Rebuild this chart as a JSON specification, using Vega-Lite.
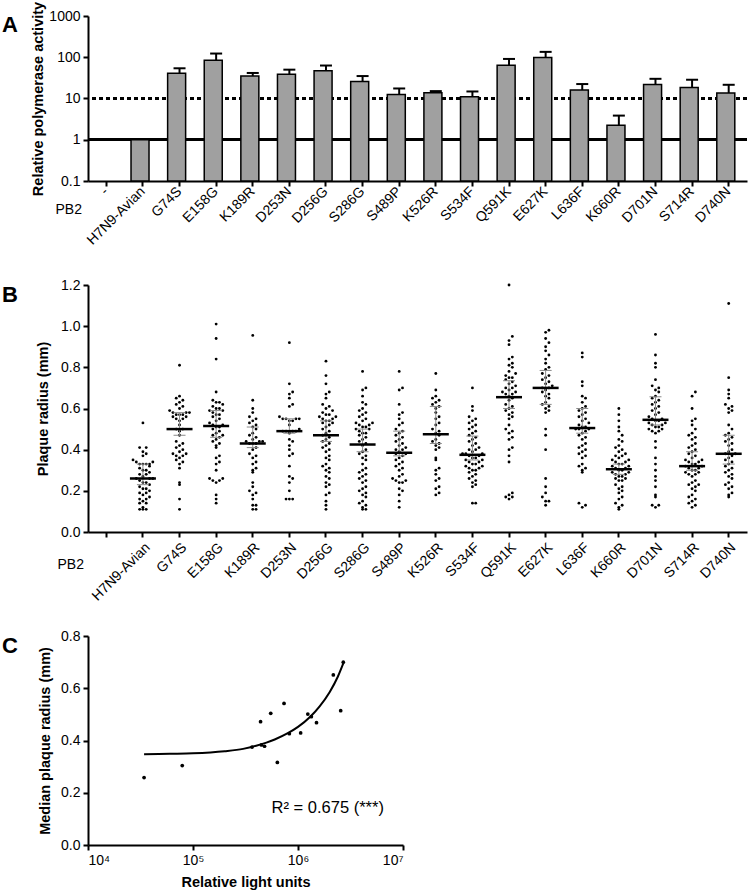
{
"$schema": "https://vega.github.io/schema/vega-lite/v6.json",
"padding": {"left": 2, "top": 1, "right": 2, "bottom": 2},
"bounds": "flush",
"spacing": 104,
"config": {
  "font": "Liberation Sans",
  "view": {"stroke": null},
  "axis": {"domainColor": "black", "domainWidth": 2, "tickColor": "black", "tickWidth": 2, "tickSize": 5, "labelFont": "Liberation Sans", "labelFontSize": 14, "labelColor": "black", "titleFont": "Liberation Sans", "titleFontSize": 14.5, "titleFontWeight": "bold", "titleColor": "black", "grid": false, "labelPadding": 3},
  "title": {"fontSize": 22, "fontWeight": "bold", "font": "Liberation Sans", "anchor": "start", "frame": "group", "color": "black", "baseline": "top", "offset": 0, "dx": -86, "dy": 33}
},
"datasets": {
  "act": [
    {"g": "H7N9-Avian", "v": 1, "hi": null},
    {"g": "G74S", "v": 40.7, "hi": 54},
    {"g": "E158G", "v": 84.6, "hi": 123},
    {"g": "K189R", "v": 35, "hi": 41.6},
    {"g": "D253N", "v": 38.5, "hi": 50},
    {"g": "D256G", "v": 47, "hi": 63},
    {"g": "S286G", "v": 26, "hi": 35},
    {"g": "S489P", "v": 12.5, "hi": 17.5},
    {"g": "K526R", "v": 13.7, "hi": 15.1},
    {"g": "S534F", "v": 11, "hi": 14.8},
    {"g": "Q591K", "v": 64, "hi": 91},
    {"g": "E627K", "v": 98, "hi": 135},
    {"g": "L636F", "v": 16, "hi": 22.4},
    {"g": "K660R", "v": 2.24, "hi": 3.85},
    {"g": "D701N", "v": 22, "hi": 30},
    {"g": "S714R", "v": 18.6, "hi": 28.5},
    {"g": "D740N", "v": 13.5, "hi": 21.5}
  ],
  "pstats": [
    {"g": "H7N9-Avian", "med": 0.26, "lo": 0.23, "hi": 0.33},
    {"g": "G74S", "med": 0.50, "lo": 0.47, "hi": 0.58},
    {"g": "E158G", "med": 0.515, "lo": 0.46, "hi": 0.59},
    {"g": "K189R", "med": 0.43, "lo": 0.41, "hi": 0.51},
    {"g": "D253N", "med": 0.49, "lo": 0.48, "hi": 0.55},
    {"g": "D256G", "med": 0.47, "lo": 0.44, "hi": 0.54},
    {"g": "S286G", "med": 0.425, "lo": 0.39, "hi": 0.50},
    {"g": "S489P", "med": 0.385, "lo": 0.37, "hi": 0.49},
    {"g": "K526R", "med": 0.475, "lo": 0.43, "hi": 0.61},
    {"g": "S534F", "med": 0.375, "lo": 0.35, "hi": 0.466},
    {"g": "Q591K", "med": 0.655, "lo": 0.60, "hi": 0.735},
    {"g": "E627K", "med": 0.70, "lo": 0.62, "hi": 0.785},
    {"g": "L636F", "med": 0.505, "lo": 0.48, "hi": 0.60},
    {"g": "K660R", "med": 0.305, "lo": 0.28, "hi": 0.33},
    {"g": "D701N", "med": 0.545, "lo": 0.52, "hi": 0.657},
    {"g": "S714R", "med": 0.32, "lo": 0.30, "hi": 0.39},
    {"g": "D740N", "med": 0.38, "lo": 0.33, "hi": 0.47}
  ],
  "corr": [
    {"rlu": 34200, "r": 0.258}, {"rlu": 79000, "r": 0.304}, {"rlu": 365000, "r": 0.375},
    {"rlu": 440000, "r": 0.472}, {"rlu": 448000, "r": 0.383}, {"rlu": 480000, "r": 0.378},
    {"rlu": 550000, "r": 0.504}, {"rlu": 636000, "r": 0.316}, {"rlu": 736000, "r": 0.542},
    {"rlu": 827000, "r": 0.426}, {"rlu": 1060000, "r": 0.429}, {"rlu": 1240000, "r": 0.501},
    {"rlu": 1340000, "r": 0.491}, {"rlu": 1500000, "r": 0.468}, {"rlu": 2170000, "r": 0.651},
    {"rlu": 2550000, "r": 0.514}, {"rlu": 2700000, "r": 0.700}
  ],
  "fit": [
    {"rlu": 34200, "r": 0.347}, {"rlu": 60000, "r": 0.349}, {"rlu": 100000, "r": 0.351},
    {"rlu": 200000, "r": 0.359}, {"rlu": 300000, "r": 0.368}, {"rlu": 400000, "r": 0.38},
    {"rlu": 500000, "r": 0.392}, {"rlu": 600000, "r": 0.404}, {"rlu": 800000, "r": 0.428},
    {"rlu": 1000000, "r": 0.452}, {"rlu": 1300000, "r": 0.49}, {"rlu": 1600000, "r": 0.53},
    {"rlu": 2000000, "r": 0.585}, {"rlu": 2400000, "r": 0.645}, {"rlu": 2700000, "r": 0.695}
  ],
  "note": [{"rlu": 560000, "r": 0.14, "t": "R² = 0.675 (***)"}],
  "plaque": [
{"g":"H7N9-Avian","v":0.53},{"g":"H7N9-Avian","v":0.41},{"g":"H7N9-Avian","v":0.41},{"g":"H7N9-Avian","v":0.39},{"g":"H7N9-Avian","v":0.38},{"g":"H7N9-Avian","v":0.37},{"g":"H7N9-Avian","v":0.35},{"g":"H7N9-Avian","v":0.34},{"g":"H7N9-Avian","v":0.34},{"g":"H7N9-Avian","v":0.33},{"g":"H7N9-Avian","v":0.33},{"g":"H7N9-Avian","v":0.33},{"g":"H7N9-Avian","v":0.33},{"g":"H7N9-Avian","v":0.32},{"g":"H7N9-Avian","v":0.31},{"g":"H7N9-Avian","v":0.30},{"g":"H7N9-Avian","v":0.30},{"g":"H7N9-Avian","v":0.29},{"g":"H7N9-Avian","v":0.28},{"g":"H7N9-Avian","v":0.28},{"g":"H7N9-Avian","v":0.27},{"g":"H7N9-Avian","v":0.26},{"g":"H7N9-Avian","v":0.26},{"g":"H7N9-Avian","v":0.26},{"g":"H7N9-Avian","v":0.25},{"g":"H7N9-Avian","v":0.24},{"g":"H7N9-Avian","v":0.24},{"g":"H7N9-Avian","v":0.23},{"g":"H7N9-Avian","v":0.22},{"g":"H7N9-Avian","v":0.21},{"g":"H7N9-Avian","v":0.21},{"g":"H7N9-Avian","v":0.20},{"g":"H7N9-Avian","v":0.19},{"g":"H7N9-Avian","v":0.19},{"g":"H7N9-Avian","v":0.18},{"g":"H7N9-Avian","v":0.17},{"g":"H7N9-Avian","v":0.16},{"g":"H7N9-Avian","v":0.16},{"g":"H7N9-Avian","v":0.15},{"g":"H7N9-Avian","v":0.14},{"g":"H7N9-Avian","v":0.14},{"g":"H7N9-Avian","v":0.12},{"g":"H7N9-Avian","v":0.11},{"g":"H7N9-Avian","v":0.11},{"g":"H7N9-Avian","v":0.11},
{"g":"G74S","v":0.81},{"g":"G74S","v":0.66},{"g":"G74S","v":0.65},{"g":"G74S","v":0.64},{"g":"G74S","v":0.63},{"g":"G74S","v":0.62},{"g":"G74S","v":0.61},{"g":"G74S","v":0.60},{"g":"G74S","v":0.59},{"g":"G74S","v":0.58},{"g":"G74S","v":0.58},{"g":"G74S","v":0.58},{"g":"G74S","v":0.57},{"g":"G74S","v":0.57},{"g":"G74S","v":0.57},{"g":"G74S","v":0.56},{"g":"G74S","v":0.56},{"g":"G74S","v":0.55},{"g":"G74S","v":0.55},{"g":"G74S","v":0.54},{"g":"G74S","v":0.52},{"g":"G74S","v":0.50},{"g":"G74S","v":0.50},{"g":"G74S","v":0.49},{"g":"G74S","v":0.47},{"g":"G74S","v":0.44},{"g":"G74S","v":0.43},{"g":"G74S","v":0.42},{"g":"G74S","v":0.41},{"g":"G74S","v":0.40},{"g":"G74S","v":0.39},{"g":"G74S","v":0.38},{"g":"G74S","v":0.38},{"g":"G74S","v":0.37},{"g":"G74S","v":0.37},{"g":"G74S","v":0.36},{"g":"G74S","v":0.35},{"g":"G74S","v":0.34},{"g":"G74S","v":0.33},{"g":"G74S","v":0.31},{"g":"G74S","v":0.24},{"g":"G74S","v":0.23},{"g":"G74S","v":0.16},{"g":"G74S","v":0.11},
{"g":"E158G","v":1.01},{"g":"E158G","v":0.94},{"g":"E158G","v":0.84},{"g":"E158G","v":0.68},{"g":"E158G","v":0.64},{"g":"E158G","v":0.63},{"g":"E158G","v":0.63},{"g":"E158G","v":0.62},{"g":"E158G","v":0.61},{"g":"E158G","v":0.60},{"g":"E158G","v":0.60},{"g":"E158G","v":0.59},{"g":"E158G","v":0.59},{"g":"E158G","v":0.58},{"g":"E158G","v":0.57},{"g":"E158G","v":0.57},{"g":"E158G","v":0.56},{"g":"E158G","v":0.55},{"g":"E158G","v":0.54},{"g":"E158G","v":0.53},{"g":"E158G","v":0.52},{"g":"E158G","v":0.52},{"g":"E158G","v":0.51},{"g":"E158G","v":0.51},{"g":"E158G","v":0.50},{"g":"E158G","v":0.49},{"g":"E158G","v":0.48},{"g":"E158G","v":0.47},{"g":"E158G","v":0.47},{"g":"E158G","v":0.46},{"g":"E158G","v":0.45},{"g":"E158G","v":0.44},{"g":"E158G","v":0.43},{"g":"E158G","v":0.42},{"g":"E158G","v":0.41},{"g":"E158G","v":0.37},{"g":"E158G","v":0.36},{"g":"E158G","v":0.34},{"g":"E158G","v":0.33},{"g":"E158G","v":0.30},{"g":"E158G","v":0.26},{"g":"E158G","v":0.26},{"g":"E158G","v":0.25},{"g":"E158G","v":0.25},{"g":"E158G","v":0.24},{"g":"E158G","v":0.18},{"g":"E158G","v":0.16},{"g":"E158G","v":0.14},
{"g":"K189R","v":0.955},{"g":"K189R","v":0.64},{"g":"K189R","v":0.60},{"g":"K189R","v":0.58},{"g":"K189R","v":0.56},{"g":"K189R","v":0.55},{"g":"K189R","v":0.54},{"g":"K189R","v":0.53},{"g":"K189R","v":0.52},{"g":"K189R","v":0.51},{"g":"K189R","v":0.50},{"g":"K189R","v":0.48},{"g":"K189R","v":0.47},{"g":"K189R","v":0.46},{"g":"K189R","v":0.45},{"g":"K189R","v":0.44},{"g":"K189R","v":0.44},{"g":"K189R","v":0.44},{"g":"K189R","v":0.43},{"g":"K189R","v":0.43},{"g":"K189R","v":0.43},{"g":"K189R","v":0.41},{"g":"K189R","v":0.40},{"g":"K189R","v":0.38},{"g":"K189R","v":0.37},{"g":"K189R","v":0.36},{"g":"K189R","v":0.34},{"g":"K189R","v":0.33},{"g":"K189R","v":0.31},{"g":"K189R","v":0.30},{"g":"K189R","v":0.29},{"g":"K189R","v":0.24},{"g":"K189R","v":0.22},{"g":"K189R","v":0.20},{"g":"K189R","v":0.19},{"g":"K189R","v":0.18},{"g":"K189R","v":0.16},{"g":"K189R","v":0.13},{"g":"K189R","v":0.13},{"g":"K189R","v":0.11},{"g":"K189R","v":0.11},
{"g":"D253N","v":0.92},{"g":"D253N","v":0.72},{"g":"D253N","v":0.68},{"g":"D253N","v":0.67},{"g":"D253N","v":0.65},{"g":"D253N","v":0.62},{"g":"D253N","v":0.61},{"g":"D253N","v":0.56},{"g":"D253N","v":0.55},{"g":"D253N","v":0.55},{"g":"D253N","v":0.55},{"g":"D253N","v":0.55},{"g":"D253N","v":0.54},{"g":"D253N","v":0.54},{"g":"D253N","v":0.52},{"g":"D253N","v":0.50},{"g":"D253N","v":0.49},{"g":"D253N","v":0.49},{"g":"D253N","v":0.49},{"g":"D253N","v":0.49},{"g":"D253N","v":0.48},{"g":"D253N","v":0.45},{"g":"D253N","v":0.44},{"g":"D253N","v":0.42},{"g":"D253N","v":0.40},{"g":"D253N","v":0.38},{"g":"D253N","v":0.37},{"g":"D253N","v":0.32},{"g":"D253N","v":0.27},{"g":"D253N","v":0.26},{"g":"D253N","v":0.24},{"g":"D253N","v":0.20},{"g":"D253N","v":0.16},{"g":"D253N","v":0.16},{"g":"D253N","v":0.16},
{"g":"D256G","v":0.83},{"g":"D256G","v":0.76},{"g":"D256G","v":0.72},{"g":"D256G","v":0.68},{"g":"D256G","v":0.67},{"g":"D256G","v":0.65},{"g":"D256G","v":0.62},{"g":"D256G","v":0.61},{"g":"D256G","v":0.60},{"g":"D256G","v":0.59},{"g":"D256G","v":0.58},{"g":"D256G","v":0.57},{"g":"D256G","v":0.57},{"g":"D256G","v":0.56},{"g":"D256G","v":0.56},{"g":"D256G","v":0.55},{"g":"D256G","v":0.55},{"g":"D256G","v":0.54},{"g":"D256G","v":0.54},{"g":"D256G","v":0.53},{"g":"D256G","v":0.53},{"g":"D256G","v":0.52},{"g":"D256G","v":0.51},{"g":"D256G","v":0.50},{"g":"D256G","v":0.49},{"g":"D256G","v":0.48},{"g":"D256G","v":0.47},{"g":"D256G","v":0.46},{"g":"D256G","v":0.45},{"g":"D256G","v":0.44},{"g":"D256G","v":0.43},{"g":"D256G","v":0.42},{"g":"D256G","v":0.41},{"g":"D256G","v":0.40},{"g":"D256G","v":0.39},{"g":"D256G","v":0.37},{"g":"D256G","v":0.36},{"g":"D256G","v":0.35},{"g":"D256G","v":0.33},{"g":"D256G","v":0.32},{"g":"D256G","v":0.31},{"g":"D256G","v":0.30},{"g":"D256G","v":0.29},{"g":"D256G","v":0.27},{"g":"D256G","v":0.26},{"g":"D256G","v":0.24},{"g":"D256G","v":0.23},{"g":"D256G","v":0.22},{"g":"D256G","v":0.19},{"g":"D256G","v":0.18},{"g":"D256G","v":0.15},{"g":"D256G","v":0.13},{"g":"D256G","v":0.11},
{"g":"S286G","v":0.78},{"g":"S286G","v":0.70},{"g":"S286G","v":0.69},{"g":"S286G","v":0.66},{"g":"S286G","v":0.63},{"g":"S286G","v":0.62},{"g":"S286G","v":0.60},{"g":"S286G","v":0.59},{"g":"S286G","v":0.58},{"g":"S286G","v":0.57},{"g":"S286G","v":0.56},{"g":"S286G","v":0.55},{"g":"S286G","v":0.54},{"g":"S286G","v":0.53},{"g":"S286G","v":0.53},{"g":"S286G","v":0.52},{"g":"S286G","v":0.52},{"g":"S286G","v":0.51},{"g":"S286G","v":0.51},{"g":"S286G","v":0.50},{"g":"S286G","v":0.50},{"g":"S286G","v":0.49},{"g":"S286G","v":0.48},{"g":"S286G","v":0.48},{"g":"S286G","v":0.47},{"g":"S286G","v":0.46},{"g":"S286G","v":0.45},{"g":"S286G","v":0.44},{"g":"S286G","v":0.43},{"g":"S286G","v":0.42},{"g":"S286G","v":0.40},{"g":"S286G","v":0.39},{"g":"S286G","v":0.38},{"g":"S286G","v":0.37},{"g":"S286G","v":0.36},{"g":"S286G","v":0.35},{"g":"S286G","v":0.33},{"g":"S286G","v":0.31},{"g":"S286G","v":0.30},{"g":"S286G","v":0.29},{"g":"S286G","v":0.28},{"g":"S286G","v":0.27},{"g":"S286G","v":0.26},{"g":"S286G","v":0.25},{"g":"S286G","v":0.24},{"g":"S286G","v":0.22},{"g":"S286G","v":0.21},{"g":"S286G","v":0.20},{"g":"S286G","v":0.19},{"g":"S286G","v":0.18},{"g":"S286G","v":0.17},{"g":"S286G","v":0.15},{"g":"S286G","v":0.14},{"g":"S286G","v":0.13},{"g":"S286G","v":0.12},{"g":"S286G","v":0.11},{"g":"S286G","v":0.11},
{"g":"S489P","v":0.78},{"g":"S489P","v":0.70},{"g":"S489P","v":0.69},{"g":"S489P","v":0.62},{"g":"S489P","v":0.58},{"g":"S489P","v":0.57},{"g":"S489P","v":0.55},{"g":"S489P","v":0.53},{"g":"S489P","v":0.52},{"g":"S489P","v":0.50},{"g":"S489P","v":0.49},{"g":"S489P","v":0.48},{"g":"S489P","v":0.47},{"g":"S489P","v":0.46},{"g":"S489P","v":0.45},{"g":"S489P","v":0.44},{"g":"S489P","v":0.43},{"g":"S489P","v":0.42},{"g":"S489P","v":0.41},{"g":"S489P","v":0.40},{"g":"S489P","v":0.40},{"g":"S489P","v":0.39},{"g":"S489P","v":0.38},{"g":"S489P","v":0.38},{"g":"S489P","v":0.37},{"g":"S489P","v":0.36},{"g":"S489P","v":0.35},{"g":"S489P","v":0.34},{"g":"S489P","v":0.33},{"g":"S489P","v":0.32},{"g":"S489P","v":0.31},{"g":"S489P","v":0.30},{"g":"S489P","v":0.28},{"g":"S489P","v":0.27},{"g":"S489P","v":0.26},{"g":"S489P","v":0.25},{"g":"S489P","v":0.25},{"g":"S489P","v":0.24},{"g":"S489P","v":0.24},{"g":"S489P","v":0.21},{"g":"S489P","v":0.20},{"g":"S489P","v":0.18},{"g":"S489P","v":0.15},{"g":"S489P","v":0.12},
{"g":"K526R","v":0.77},{"g":"K526R","v":0.69},{"g":"K526R","v":0.66},{"g":"K526R","v":0.65},{"g":"K526R","v":0.64},{"g":"K526R","v":0.63},{"g":"K526R","v":0.62},{"g":"K526R","v":0.61},{"g":"K526R","v":0.60},{"g":"K526R","v":0.58},{"g":"K526R","v":0.56},{"g":"K526R","v":0.55},{"g":"K526R","v":0.53},{"g":"K526R","v":0.52},{"g":"K526R","v":0.50},{"g":"K526R","v":0.49},{"g":"K526R","v":0.48},{"g":"K526R","v":0.47},{"g":"K526R","v":0.45},{"g":"K526R","v":0.44},{"g":"K526R","v":0.43},{"g":"K526R","v":0.42},{"g":"K526R","v":0.41},{"g":"K526R","v":0.40},{"g":"K526R","v":0.36},{"g":"K526R","v":0.35},{"g":"K526R","v":0.31},{"g":"K526R","v":0.30},{"g":"K526R","v":0.28},{"g":"K526R","v":0.26},{"g":"K526R","v":0.25},{"g":"K526R","v":0.22},{"g":"K526R","v":0.21},{"g":"K526R","v":0.19},{"g":"K526R","v":0.18},
{"g":"S534F","v":0.70},{"g":"S534F","v":0.61},{"g":"S534F","v":0.59},{"g":"S534F","v":0.56},{"g":"S534F","v":0.55},{"g":"S534F","v":0.54},{"g":"S534F","v":0.53},{"g":"S534F","v":0.52},{"g":"S534F","v":0.51},{"g":"S534F","v":0.50},{"g":"S534F","v":0.49},{"g":"S534F","v":0.48},{"g":"S534F","v":0.47},{"g":"S534F","v":0.46},{"g":"S534F","v":0.45},{"g":"S534F","v":0.44},{"g":"S534F","v":0.43},{"g":"S534F","v":0.42},{"g":"S534F","v":0.41},{"g":"S534F","v":0.40},{"g":"S534F","v":0.40},{"g":"S534F","v":0.39},{"g":"S534F","v":0.38},{"g":"S534F","v":0.38},{"g":"S534F","v":0.38},{"g":"S534F","v":0.37},{"g":"S534F","v":0.37},{"g":"S534F","v":0.36},{"g":"S534F","v":0.36},{"g":"S534F","v":0.35},{"g":"S534F","v":0.35},{"g":"S534F","v":0.34},{"g":"S534F","v":0.34},{"g":"S534F","v":0.33},{"g":"S534F","v":0.33},{"g":"S534F","v":0.32},{"g":"S534F","v":0.32},{"g":"S534F","v":0.31},{"g":"S534F","v":0.31},{"g":"S534F","v":0.30},{"g":"S534F","v":0.30},{"g":"S534F","v":0.29},{"g":"S534F","v":0.28},{"g":"S534F","v":0.27},{"g":"S534F","v":0.26},{"g":"S534F","v":0.25},{"g":"S534F","v":0.24},{"g":"S534F","v":0.23},{"g":"S534F","v":0.22},{"g":"S534F","v":0.14},{"g":"S534F","v":0.14},
{"g":"Q591K","v":1.20},{"g":"Q591K","v":0.95},{"g":"Q591K","v":0.93},{"g":"Q591K","v":0.91},{"g":"Q591K","v":0.85},{"g":"Q591K","v":0.84},{"g":"Q591K","v":0.82},{"g":"Q591K","v":0.81},{"g":"Q591K","v":0.80},{"g":"Q591K","v":0.78},{"g":"Q591K","v":0.77},{"g":"Q591K","v":0.76},{"g":"Q591K","v":0.75},{"g":"Q591K","v":0.75},{"g":"Q591K","v":0.74},{"g":"Q591K","v":0.73},{"g":"Q591K","v":0.72},{"g":"Q591K","v":0.71},{"g":"Q591K","v":0.70},{"g":"Q591K","v":0.70},{"g":"Q591K","v":0.69},{"g":"Q591K","v":0.68},{"g":"Q591K","v":0.68},{"g":"Q591K","v":0.67},{"g":"Q591K","v":0.67},{"g":"Q591K","v":0.66},{"g":"Q591K","v":0.65},{"g":"Q591K","v":0.64},{"g":"Q591K","v":0.62},{"g":"Q591K","v":0.61},{"g":"Q591K","v":0.60},{"g":"Q591K","v":0.59},{"g":"Q591K","v":0.58},{"g":"Q591K","v":0.57},{"g":"Q591K","v":0.56},{"g":"Q591K","v":0.55},{"g":"Q591K","v":0.52},{"g":"Q591K","v":0.50},{"g":"Q591K","v":0.49},{"g":"Q591K","v":0.48},{"g":"Q591K","v":0.46},{"g":"Q591K","v":0.45},{"g":"Q591K","v":0.41},{"g":"Q591K","v":0.40},{"g":"Q591K","v":0.37},{"g":"Q591K","v":0.34},{"g":"Q591K","v":0.19},{"g":"Q591K","v":0.18},{"g":"Q591K","v":0.17},{"g":"Q591K","v":0.17},{"g":"Q591K","v":0.16},
{"g":"E627K","v":0.98},{"g":"E627K","v":0.97},{"g":"E627K","v":0.94},{"g":"E627K","v":0.92},{"g":"E627K","v":0.90},{"g":"E627K","v":0.88},{"g":"E627K","v":0.86},{"g":"E627K","v":0.84},{"g":"E627K","v":0.82},{"g":"E627K","v":0.80},{"g":"E627K","v":0.79},{"g":"E627K","v":0.77},{"g":"E627K","v":0.76},{"g":"E627K","v":0.75},{"g":"E627K","v":0.74},{"g":"E627K","v":0.73},{"g":"E627K","v":0.72},{"g":"E627K","v":0.71},{"g":"E627K","v":0.70},{"g":"E627K","v":0.70},{"g":"E627K","v":0.69},{"g":"E627K","v":0.68},{"g":"E627K","v":0.67},{"g":"E627K","v":0.66},{"g":"E627K","v":0.65},{"g":"E627K","v":0.63},{"g":"E627K","v":0.62},{"g":"E627K","v":0.61},{"g":"E627K","v":0.60},{"g":"E627K","v":0.59},{"g":"E627K","v":0.58},{"g":"E627K","v":0.50},{"g":"E627K","v":0.47},{"g":"E627K","v":0.40},{"g":"E627K","v":0.26},{"g":"E627K","v":0.22},{"g":"E627K","v":0.19},{"g":"E627K","v":0.17},{"g":"E627K","v":0.15},{"g":"E627K","v":0.15},{"g":"E627K","v":0.13},
{"g":"L636F","v":0.87},{"g":"L636F","v":0.85},{"g":"L636F","v":0.73},{"g":"L636F","v":0.71},{"g":"L636F","v":0.66},{"g":"L636F","v":0.65},{"g":"L636F","v":0.63},{"g":"L636F","v":0.61},{"g":"L636F","v":0.60},{"g":"L636F","v":0.59},{"g":"L636F","v":0.58},{"g":"L636F","v":0.57},{"g":"L636F","v":0.56},{"g":"L636F","v":0.55},{"g":"L636F","v":0.54},{"g":"L636F","v":0.53},{"g":"L636F","v":0.52},{"g":"L636F","v":0.51},{"g":"L636F","v":0.51},{"g":"L636F","v":0.50},{"g":"L636F","v":0.50},{"g":"L636F","v":0.50},{"g":"L636F","v":0.49},{"g":"L636F","v":0.48},{"g":"L636F","v":0.47},{"g":"L636F","v":0.46},{"g":"L636F","v":0.45},{"g":"L636F","v":0.43},{"g":"L636F","v":0.42},{"g":"L636F","v":0.41},{"g":"L636F","v":0.40},{"g":"L636F","v":0.39},{"g":"L636F","v":0.38},{"g":"L636F","v":0.37},{"g":"L636F","v":0.36},{"g":"L636F","v":0.33},{"g":"L636F","v":0.32},{"g":"L636F","v":0.31},{"g":"L636F","v":0.30},{"g":"L636F","v":0.29},{"g":"L636F","v":0.14},{"g":"L636F","v":0.13},{"g":"L636F","v":0.12},
{"g":"K660R","v":0.60},{"g":"K660R","v":0.57},{"g":"K660R","v":0.54},{"g":"K660R","v":0.51},{"g":"K660R","v":0.49},{"g":"K660R","v":0.47},{"g":"K660R","v":0.45},{"g":"K660R","v":0.44},{"g":"K660R","v":0.42},{"g":"K660R","v":0.41},{"g":"K660R","v":0.40},{"g":"K660R","v":0.39},{"g":"K660R","v":0.38},{"g":"K660R","v":0.37},{"g":"K660R","v":0.37},{"g":"K660R","v":0.36},{"g":"K660R","v":0.35},{"g":"K660R","v":0.35},{"g":"K660R","v":0.34},{"g":"K660R","v":0.34},{"g":"K660R","v":0.33},{"g":"K660R","v":0.33},{"g":"K660R","v":0.32},{"g":"K660R","v":0.32},{"g":"K660R","v":0.31},{"g":"K660R","v":0.31},{"g":"K660R","v":0.30},{"g":"K660R","v":0.30},{"g":"K660R","v":0.29},{"g":"K660R","v":0.29},{"g":"K660R","v":0.28},{"g":"K660R","v":0.28},{"g":"K660R","v":0.27},{"g":"K660R","v":0.27},{"g":"K660R","v":0.26},{"g":"K660R","v":0.26},{"g":"K660R","v":0.25},{"g":"K660R","v":0.25},{"g":"K660R","v":0.23},{"g":"K660R","v":0.22},{"g":"K660R","v":0.21},{"g":"K660R","v":0.20},{"g":"K660R","v":0.19},{"g":"K660R","v":0.17},{"g":"K660R","v":0.16},{"g":"K660R","v":0.14},{"g":"K660R","v":0.13},{"g":"K660R","v":0.12},{"g":"K660R","v":0.11},
{"g":"D701N","v":0.96},{"g":"D701N","v":0.86},{"g":"D701N","v":0.82},{"g":"D701N","v":0.80},{"g":"D701N","v":0.74},{"g":"D701N","v":0.71},{"g":"D701N","v":0.70},{"g":"D701N","v":0.69},{"g":"D701N","v":0.68},{"g":"D701N","v":0.66},{"g":"D701N","v":0.65},{"g":"D701N","v":0.64},{"g":"D701N","v":0.63},{"g":"D701N","v":0.62},{"g":"D701N","v":0.61},{"g":"D701N","v":0.60},{"g":"D701N","v":0.59},{"g":"D701N","v":0.58},{"g":"D701N","v":0.57},{"g":"D701N","v":0.56},{"g":"D701N","v":0.55},{"g":"D701N","v":0.55},{"g":"D701N","v":0.54},{"g":"D701N","v":0.54},{"g":"D701N","v":0.53},{"g":"D701N","v":0.53},{"g":"D701N","v":0.52},{"g":"D701N","v":0.52},{"g":"D701N","v":0.51},{"g":"D701N","v":0.51},{"g":"D701N","v":0.50},{"g":"D701N","v":0.50},{"g":"D701N","v":0.49},{"g":"D701N","v":0.49},{"g":"D701N","v":0.48},{"g":"D701N","v":0.44},{"g":"D701N","v":0.41},{"g":"D701N","v":0.36},{"g":"D701N","v":0.33},{"g":"D701N","v":0.30},{"g":"D701N","v":0.27},{"g":"D701N","v":0.25},{"g":"D701N","v":0.22},{"g":"D701N","v":0.18},{"g":"D701N","v":0.17},{"g":"D701N","v":0.13},{"g":"D701N","v":0.13},{"g":"D701N","v":0.12},
{"g":"S714R","v":0.68},{"g":"S714R","v":0.66},{"g":"S714R","v":0.60},{"g":"S714R","v":0.55},{"g":"S714R","v":0.54},{"g":"S714R","v":0.52},{"g":"S714R","v":0.50},{"g":"S714R","v":0.48},{"g":"S714R","v":0.47},{"g":"S714R","v":0.46},{"g":"S714R","v":0.45},{"g":"S714R","v":0.43},{"g":"S714R","v":0.42},{"g":"S714R","v":0.41},{"g":"S714R","v":0.40},{"g":"S714R","v":0.39},{"g":"S714R","v":0.38},{"g":"S714R","v":0.37},{"g":"S714R","v":0.36},{"g":"S714R","v":0.35},{"g":"S714R","v":0.35},{"g":"S714R","v":0.34},{"g":"S714R","v":0.34},{"g":"S714R","v":0.33},{"g":"S714R","v":0.33},{"g":"S714R","v":0.32},{"g":"S714R","v":0.32},{"g":"S714R","v":0.31},{"g":"S714R","v":0.31},{"g":"S714R","v":0.30},{"g":"S714R","v":0.30},{"g":"S714R","v":0.29},{"g":"S714R","v":0.29},{"g":"S714R","v":0.28},{"g":"S714R","v":0.28},{"g":"S714R","v":0.27},{"g":"S714R","v":0.25},{"g":"S714R","v":0.24},{"g":"S714R","v":0.23},{"g":"S714R","v":0.23},{"g":"S714R","v":0.22},{"g":"S714R","v":0.21},{"g":"S714R","v":0.20},{"g":"S714R","v":0.18},{"g":"S714R","v":0.17},{"g":"S714R","v":0.16},{"g":"S714R","v":0.15},{"g":"S714R","v":0.14},{"g":"S714R","v":0.13},{"g":"S714R","v":0.12},
{"g":"D740N","v":1.11},{"g":"D740N","v":0.75},{"g":"D740N","v":0.69},{"g":"D740N","v":0.67},{"g":"D740N","v":0.65},{"g":"D740N","v":0.62},{"g":"D740N","v":0.61},{"g":"D740N","v":0.60},{"g":"D740N","v":0.59},{"g":"D740N","v":0.58},{"g":"D740N","v":0.52},{"g":"D740N","v":0.50},{"g":"D740N","v":0.48},{"g":"D740N","v":0.47},{"g":"D740N","v":0.46},{"g":"D740N","v":0.45},{"g":"D740N","v":0.44},{"g":"D740N","v":0.43},{"g":"D740N","v":0.42},{"g":"D740N","v":0.40},{"g":"D740N","v":0.39},{"g":"D740N","v":0.38},{"g":"D740N","v":0.38},{"g":"D740N","v":0.37},{"g":"D740N","v":0.36},{"g":"D740N","v":0.35},{"g":"D740N","v":0.34},{"g":"D740N","v":0.33},{"g":"D740N","v":0.32},{"g":"D740N","v":0.31},{"g":"D740N","v":0.30},{"g":"D740N","v":0.29},{"g":"D740N","v":0.28},{"g":"D740N","v":0.27},{"g":"D740N","v":0.26},{"g":"D740N","v":0.24},{"g":"D740N","v":0.23},{"g":"D740N","v":0.22},{"g":"D740N","v":0.21},{"g":"D740N","v":0.19},{"g":"D740N","v":0.18},{"g":"D740N","v":0.17}
  ]
},
"vconcat": [
  {
    "width": 659, "height": 165,
    "title": {"text": "A", "dy": 40},
    "layer": [
      {"data": {"name": "act"}, "mark": {"type": "rule", "strokeWidth": 2, "strokeDash": [4, 3], "color": "black"}, "encoding": {"y": {"datum": 10, "type": "quantitative"}}},
      {"data": {"name": "act"}, "mark": {"type": "rule", "strokeWidth": 2, "color": "black"}, "encoding": {"y": {"datum": 1, "type": "quantitative"}}},
      {"data": {"name": "act"}, "transform": [{"filter": "isValid(datum.hi)"}], "mark": {"type": "rule", "strokeWidth": 2, "color": "black"},
       "encoding": {"x": {"field": "g", "type": "nominal"}, "y": {"field": "v", "type": "quantitative"}, "y2": {"field": "hi"}}},
      {"data": {"name": "act"}, "transform": [{"filter": "isValid(datum.hi)"}], "mark": {"type": "tick", "thickness": 2, "color": "black", "opacity": 1},
       "encoding": {"x": {"field": "g", "type": "nominal"}, "y": {"field": "hi", "type": "quantitative"}, "size": {"value": 12}}},
      {"data": {"name": "act"}, "mark": {"type": "bar", "fill": "#a0a0a0", "stroke": "black", "strokeWidth": 1.5, "opacity": 1},
       "encoding": {
         "x": {"field": "g", "type": "nominal", "sort": null,
               "scale": {"domain": ["-", "H7N9-Avian", "G74S", "E158G", "K189R", "D253N", "D256G", "S286G", "S489P", "K526R", "S534F", "Q591K", "E627K", "L636F", "K660R", "D701N", "S714R", "D740N"], "paddingInner": 0.35, "paddingOuter": 0.175},
               "axis": {"title": "PB2", "labelAngle": -45, "titleX": -33, "titleY": 28, "titleAlign": "left", "titleBaseline": "middle", "titleAnchor": null, "titleFontWeight": "normal", "titleFontSize": 14}},
         "y": {"field": "v", "type": "quantitative", "scale": {"type": "log", "domain": [0.1, 1000]},
               "axis": {"values": [0.1, 1, 10, 100, 1000], "format": "~g", "title": "Relative polymerase activity", "titlePadding": 3}},
         "y2": {"datum": 0.1}
       }}
    ]
  },
  {
    "width": 659, "height": 247,
    "title": {"text": "B"},
    "layer": [
      {"data": {"name": "plaque"},
       "transform": [
         {"calculate": "floor(datum.v / 0.03)", "as": "vb"},
         {"window": [{"op": "row_number", "as": "rn"}], "groupby": ["g", "vb"], "sort": [{"field": "v"}]},
         {"calculate": "datum.rn % 2 == 0 ? datum.rn / 2 : -(datum.rn - 1) / 2", "as": "off"}
       ],
       "mark": {"type": "circle", "size": 8, "color": "black", "opacity": 1},
       "encoding": {
         "x": {"field": "g", "type": "nominal", "sort": null,
               "scale": {"domain": ["-", "H7N9-Avian", "G74S", "E158G", "K189R", "D253N", "D256G", "S286G", "S489P", "K526R", "S534F", "Q591K", "E627K", "L636F", "K660R", "D701N", "S714R", "D740N"], "paddingInner": 0.35, "paddingOuter": 0.175},
               "axis": {"title": "PB2", "labelAngle": -45, "labelExpr": "datum.value == '-' ? '' : datum.value", "titleX": -31, "titleY": 32, "titleAlign": "left", "titleBaseline": "middle", "titleAnchor": null, "titleFontWeight": "normal", "titleFontSize": 14}},
         "xOffset": {"field": "off", "type": "quantitative", "scale": {"domain": [-6, 6], "range": [-7.9, 31.7]}},
         "y": {"field": "v", "type": "quantitative", "scale": {"domain": [0, 1.2]},
               "axis": {"values": [0, 0.2, 0.4, 0.6, 0.8, 1.0, 1.2], "format": ".1f", "title": "Plaque radius (mm)", "titlePadding": 10}}
       }},
      {"data": {"name": "pstats"}, "mark": {"type": "rule", "color": "#8a8a8a", "strokeWidth": 1},
       "encoding": {"x": {"field": "g", "type": "nominal"}, "y": {"field": "lo", "type": "quantitative"}, "y2": {"field": "hi"}}},
      {"data": {"name": "pstats"}, "mark": {"type": "tick", "color": "#8a8a8a", "thickness": 1, "opacity": 1},
       "encoding": {"x": {"field": "g", "type": "nominal"}, "y": {"field": "lo", "type": "quantitative"}, "size": {"value": 12}}},
      {"data": {"name": "pstats"}, "mark": {"type": "tick", "color": "#8a8a8a", "thickness": 1, "opacity": 1},
       "encoding": {"x": {"field": "g", "type": "nominal"}, "y": {"field": "hi", "type": "quantitative"}, "size": {"value": 12}}},
      {"data": {"name": "pstats"}, "mark": {"type": "tick", "color": "black", "thickness": 2.5, "opacity": 1},
       "encoding": {"x": {"field": "g", "type": "nominal"}, "y": {"field": "med", "type": "quantitative"}, "size": {"value": 26}}}
    ]
  },
  {
    "width": 315, "height": 209,
    "title": {"text": "C"},
    "layer": [
      {"data": {"name": "fit"}, "mark": {"type": "line", "color": "black", "strokeWidth": 2, "interpolate": "monotone"},
       "encoding": {
         "x": {"field": "rlu", "type": "quantitative", "scale": {"type": "log", "domain": [10000, 10000000]},
               "axis": {"values": [10000, 100000, 1000000, 10000000], "labelExpr": "datum.value > 5000000 ? '10⁷' : datum.value > 500000 ? '10⁶' : datum.value > 50000 ? '10⁵' : '10⁴'", "title": "Relative light units", "titlePadding": 8}},
         "y": {"field": "r", "type": "quantitative", "scale": {"domain": [0, 0.8]},
               "axis": {"values": [0, 0.2, 0.4, 0.6, 0.8], "format": ".1f", "title": "Median plaque radius (mm)", "titlePadding": 8}}
       }},
      {"data": {"name": "corr"}, "mark": {"type": "circle", "size": 14, "color": "black", "opacity": 1},
       "encoding": {"x": {"field": "rlu", "type": "quantitative"}, "y": {"field": "r", "type": "quantitative"}}},
      {"data": {"name": "note"}, "mark": {"type": "text", "align": "left", "baseline": "middle", "fontSize": 16.5, "color": "black"},
       "encoding": {"x": {"field": "rlu", "type": "quantitative"}, "y": {"field": "r", "type": "quantitative"}, "text": {"field": "t"}}}
    ]
  }
]
}
